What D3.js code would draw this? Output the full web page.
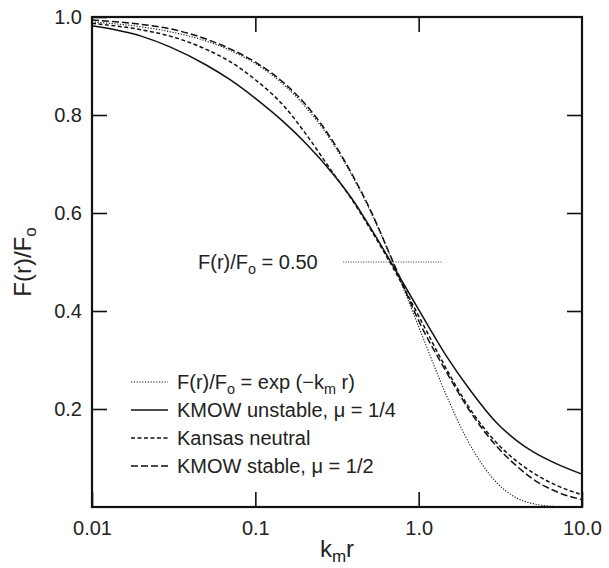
<!DOCTYPE html>
<html>
<head>
<meta charset="utf-8">
<script src="https://cdn.jsdelivr.net/npm/d3@7"></script>
<style>
  html, body { margin: 0; padding: 0; background: #fff; }
  svg { display: block; font-family: "Liberation Sans", Arial, Helvetica, sans-serif; }
</style>
</head>
<body>
<svg id="chart" width="609" height="568"></svg>
<script>
// ---- data ----
const kmr = [0.01, 0.02, 0.03, 0.05, 0.07, 0.1, 0.15, 0.2, 0.3, 0.4, 0.5, 0.7, 1.0, 1.5, 2, 3, 4, 5, 7, 10];
const expDecay      = [0.990, 0.980, 0.970, 0.951, 0.932, 0.905, 0.861, 0.819, 0.741, 0.670, 0.607, 0.497, 0.368, 0.223, 0.135, 0.050, 0.018, 0.007, 0.001, 0.000];
const kmowUnstable  = [0.982, 0.961, 0.939, 0.902, 0.872, 0.834, 0.785, 0.745, 0.679, 0.624, 0.573, 0.491, 0.403, 0.305, 0.245, 0.172, 0.135, 0.113, 0.088, 0.067];
const kansasNeutral = [0.987, 0.974, 0.961, 0.934, 0.909, 0.872, 0.818, 0.765, 0.681, 0.622, 0.570, 0.487, 0.390, 0.278, 0.207, 0.131, 0.093, 0.070, 0.044, 0.025];
const kmowStable    = [0.994, 0.985, 0.976, 0.955, 0.935, 0.908, 0.865, 0.824, 0.745, 0.673, 0.610, 0.499, 0.380, 0.272, 0.202, 0.124, 0.083, 0.057, 0.031, 0.015];

const xTicks = [0.01, 0.1, 1, 10];
const xTickLabels = ["0.01", "0.1", "1.0", "10.0"];
const yTicks = [0.2, 0.4, 0.6, 0.8, 1.0];
const yTickLabels = ["0.2", "0.4", "0.6", "0.8", "1.0"];
const refLevel = 0.50;
const refRange = [0.345, 1.4];

// ---- layout ----
const W = 609, H = 568;
const m = { left: 92, top: 17, right: 27, bottom: 61 };
const svg = d3.select("#chart");
const x = d3.scaleLog().domain([0.01, 10]).range([m.left, W - m.right]);
const y = d3.scaleLinear().domain([0, 1]).range([H - m.bottom, m.top]);
const fontTick = 20;

function styleAxis(g) {
  g.select(".domain").remove();
  g.selectAll(".tick line").attr("stroke", "#111").attr("stroke-width", 1.6);
  g.selectAll(".tick text").attr("font-size", fontTick).attr("fill", "#222")
    .attr("font-family", "'Liberation Sans', Arial, Helvetica, sans-serif");
}

// bottom
svg.append("g").attr("transform", `translate(0,${H - m.bottom})`)
  .call(d3.axisBottom(x).tickValues(xTicks).tickFormat((d, i) => xTickLabels[i]).tickSize(-15).tickSizeOuter(0).tickPadding(14))
  .call(styleAxis);
// top
svg.append("g").attr("transform", `translate(0,${m.top})`)
  .call(d3.axisTop(x).tickValues([0.1, 1]).tickFormat("").tickSize(-15).tickSizeOuter(0))
  .call(styleAxis);
// left
svg.append("g").attr("transform", `translate(${m.left},0)`)
  .call(d3.axisLeft(y).tickValues(yTicks).tickFormat((d, i) => yTickLabels[i]).tickSize(-15).tickSizeOuter(0).tickPadding(10))
  .call(styleAxis);
// right
svg.append("g").attr("transform", `translate(${W - m.right},0)`)
  .call(d3.axisRight(y).tickValues([0.2, 0.4, 0.6, 0.8]).tickFormat("").tickSize(-15).tickSizeOuter(0))
  .call(styleAxis);

// frame
svg.append("rect")
  .attr("x", m.left).attr("y", m.top)
  .attr("width", W - m.left - m.right).attr("height", H - m.top - m.bottom)
  .attr("fill", "none").attr("stroke", "#111").attr("stroke-width", 2.2);

// ---- series ----
const series = [
  { name: "exp", values: expDecay, dash: "1.2,1.6", width: 1.1 },
  { name: "unstable", values: kmowUnstable, dash: null, width: 1.5 },
  { name: "kansas", values: kansasNeutral, dash: "4,2.5", width: 1.5 },
  { name: "stable", values: kmowStable, dash: "7,3", width: 1.5 },
];
const line = d3.line().x(d => x(d[0])).y(d => y(d[1])).curve(d3.curveMonotoneX);
const plot = svg.append("g");
series.forEach(s => {
  plot.append("path")
    .datum(kmr.map((k, i) => [k, s.values[i]]))
    .attr("d", line)
    .attr("fill", "none")
    .attr("stroke", "#111")
    .attr("stroke-width", s.width)
    .attr("stroke-dasharray", s.dash);
});

// reference 0.50 line
svg.append("line")
  .attr("x1", x(refRange[0])).attr("x2", x(refRange[1]))
  .attr("y1", y(refLevel)).attr("y2", y(refLevel))
  .attr("stroke", "#333").attr("stroke-width", 1).attr("stroke-dasharray", "1,1.5");

const fontText = 20;
const subSize = fontText * 0.72;

const ann = svg.append("text").attr("x", 198).attr("y", y(refLevel) + 7)
  .attr("font-size", fontText).attr("fill", "#222");
ann.append("tspan").text("F(r)/F");
ann.append("tspan").attr("font-size", subSize).attr("dy", 5).text("o");
ann.append("tspan").attr("dy", -5).text(" = 0.50");

// ---- legend ----
const lg = svg.append("g");
const rowY = [382, 410, 438, 466];
series.forEach((s, i) => {
  lg.append("line").attr("x1", 131).attr("x2", 168).attr("y1", rowY[i]).attr("y2", rowY[i])
    .attr("stroke", "#111").attr("stroke-width", s.width).attr("stroke-dasharray", s.dash);
});
const t0 = lg.append("text").attr("x", 177).attr("y", rowY[0] + 7).attr("font-size", fontText).attr("fill", "#222");
t0.append("tspan").text("F(r)/F");
t0.append("tspan").attr("font-size", subSize).attr("dy", 5).text("o");
t0.append("tspan").attr("dy", -5).text(" = exp (\u2212k");
t0.append("tspan").attr("font-size", subSize).attr("dy", 5).text("m");
t0.append("tspan").attr("dy", -5).text(" r)");
lg.append("text").attr("x", 177).attr("y", rowY[1] + 7).attr("font-size", fontText).attr("fill", "#222")
  .text("KMOW unstable, \u03bc = 1/4");
lg.append("text").attr("x", 177).attr("y", rowY[2] + 7).attr("font-size", fontText).attr("fill", "#222")
  .text("Kansas neutral");
lg.append("text").attr("x", 177).attr("y", rowY[3] + 7).attr("font-size", fontText).attr("fill", "#222")
  .text("KMOW stable, \u03bc = 1/2");

// ---- axis titles ----
const xt = svg.append("text").attr("x", (m.left + W - m.right) / 2).attr("y", 557)
  .attr("text-anchor", "middle").attr("font-size", 24).attr("fill", "#222");
xt.append("tspan").text("k");
xt.append("tspan").attr("font-size", 17).attr("dy", 5).text("m");
xt.append("tspan").attr("dy", -5).text("r");

const yt = svg.append("text").attr("transform", `translate(31,${(m.top + H - m.bottom) / 2}) rotate(-90)`)
  .attr("text-anchor", "middle").attr("font-size", 24).attr("fill", "#222");
yt.append("tspan").text("F(r)/F");
yt.append("tspan").attr("font-size", 17).attr("dy", 5).text("o");
</script>
</body>
</html>
